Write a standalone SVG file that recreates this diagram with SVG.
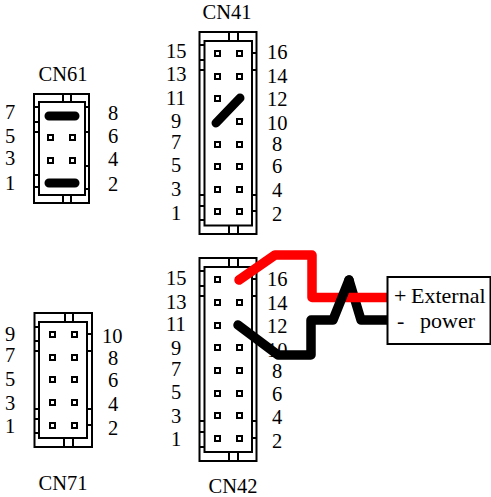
<svg xmlns="http://www.w3.org/2000/svg" width="491" height="497" viewBox="0 0 491 497">
<style>
text{font-family:"Liberation Serif","Times New Roman",serif;font-size:20.500px;fill:#000}
.m{text-anchor:middle}
.e{font-size:22px}
.b{fill:none;stroke:#000;stroke-width:2}
.p{fill:#fff;stroke:#000;stroke-width:2;shape-rendering:crispEdges}
.j{fill:none;stroke:#000;stroke-width:9;stroke-linecap:round;stroke-linejoin:round}
.r{fill:none;stroke:#f00;stroke-width:9.500;stroke-linecap:round;stroke-linejoin:round}
.w{fill:none;stroke:#000;stroke-width:9.500;stroke-linecap:round;stroke-linejoin:round}
</style>
<defs><rect id="pin" x="-2.500" y="-2.500" width="5" height="5" class="p"/></defs>
<g id="CN61">
<text x="63" y="81" class="m">CN61</text>
<path class="b" d="M34 94H89V203H34ZM39 102H85V195H39ZM63 94V102M71 94V102M63 195V203M71 195V203M34 107H39M34 122H39M34 132H39M34 175H39M34 187H39M85 107H89M85 132H89M85 166H89M85 189H89"/>
<use href="#pin" x="50.500" y="137"/><use href="#pin" x="72.500" y="137"/><use href="#pin" x="50.500" y="160"/><use href="#pin" x="72.500" y="160"/>
<path class="j" d="M49 116H75M49 183H75"/>
<text x="5" y="119">7</text><text x="5" y="143">5</text><text x="5" y="165">3</text><text x="5" y="190">1</text>
<text x="108" y="120">8</text><text x="108" y="143">6</text><text x="108" y="166">4</text><text x="108" y="191">2</text>
</g>
<g id="CN41">
<text x="227" y="18.500" class="m">CN41</text>
<path class="b" d="M199.500 32H256.500V234H199.500ZM204.500 41H252V225.500H204.500ZM229 32V41M238 32V41M229 225.500V234M238 225.500V234M199.500 45H204.500M199.500 60H204.500M199.500 70H204.500M199.500 195H204.500M199.500 206H204.500M199.500 220H204.500M252 53H256.500M252 70H256.500M252 195H256.500M252 211H256.500"/>
<use href="#pin" x="217" y="53.500"/><use href="#pin" x="239" y="53.500"/><use href="#pin" x="217" y="76"/><use href="#pin" x="239" y="76"/><use href="#pin" x="217" y="98"/><use href="#pin" x="239" y="121"/><use href="#pin" x="217" y="144"/><use href="#pin" x="239" y="144"/><use href="#pin" x="217" y="166"/><use href="#pin" x="239" y="166"/><use href="#pin" x="217" y="189"/><use href="#pin" x="239" y="189"/><use href="#pin" x="217" y="211.500"/><use href="#pin" x="239" y="211.500"/>
<path class="j" d="M216 123L240 98"/>
<text x="166" y="58">15</text><text x="166" y="81">13</text><text x="166" y="105">11</text><text x="171" y="128">9</text><text x="171" y="149">7</text><text x="171" y="172">5</text><text x="171" y="196">3</text><text x="171" y="220">1</text>
<text x="267" y="59">16</text><text x="267" y="83">14</text><text x="267" y="106">12</text><text x="267" y="130">10</text><text x="272" y="151">8</text><text x="272" y="173">6</text><text x="272" y="197">4</text><text x="272" y="221">2</text>
</g>
<g id="CN42">
<path class="b" d="M199.500 258H256.500V461H199.500ZM204.500 267H252V452H204.500ZM229 258V267M238 258V267M229 452V461M238 452V461M199.500 271H204.500M199.500 286H204.500M199.500 296H204.500M199.500 421H204.500M199.500 432H204.500M199.500 447H204.500M252 279H256.500M252 296H256.500M252 421H256.500M252 438H256.500"/>
<use href="#pin" x="217" y="279"/><use href="#pin" x="239" y="279"/><use href="#pin" x="217" y="302.500"/><use href="#pin" x="239" y="302.500"/><use href="#pin" x="217" y="325"/><use href="#pin" x="217" y="347"/><use href="#pin" x="239" y="347"/><use href="#pin" x="217" y="370"/><use href="#pin" x="239" y="370"/><use href="#pin" x="217" y="393"/><use href="#pin" x="239" y="393"/><use href="#pin" x="217" y="415"/><use href="#pin" x="239" y="415"/><use href="#pin" x="217" y="438"/><use href="#pin" x="239" y="438"/>
<text x="166" y="285">15</text><text x="166" y="309">13</text><text x="166" y="331">11</text><text x="171" y="355">9</text><text x="171" y="376">7</text><text x="171" y="399">5</text><text x="171" y="423">3</text><text x="171" y="446">1</text>
<text x="267" y="286">16</text><text x="267" y="310">14</text><text x="267" y="333">12</text><text x="267" y="357">10</text><text x="272" y="378">8</text><text x="272" y="401">6</text><text x="272" y="424">4</text><text x="272" y="448">2</text>
<text x="233" y="493" class="m">CN42</text>
</g>
<g id="CN71">
<path class="b" d="M34.500 313H92V447H34.500ZM39 322H87V438H39ZM65 313V322M73 313V322M64 438V447M73 438V447M34.500 327H39M34.500 341H39M34.500 351H39M34.500 409H39M34.500 419H39M34.500 433H39M87 334H92M87 351H92M87 409H92M87 425H92"/>
<use href="#pin" x="52" y="334"/><use href="#pin" x="74.500" y="334"/><use href="#pin" x="52" y="357"/><use href="#pin" x="74.500" y="357"/><use href="#pin" x="52" y="379"/><use href="#pin" x="74.500" y="379"/><use href="#pin" x="52" y="402"/><use href="#pin" x="74.500" y="402"/><use href="#pin" x="52" y="425"/><use href="#pin" x="74.500" y="425"/>
<text x="5" y="341">9</text><text x="5" y="362">7</text><text x="5" y="386">5</text><text x="5" y="410">3</text><text x="5" y="433">1</text>
<text x="102" y="343">10</text><text x="108" y="365">8</text><text x="108" y="387">6</text><text x="108" y="411">4</text><text x="108" y="435">2</text>
<text x="63" y="490" class="m">CN71</text>
</g>
<g id="connectors">
<path class="w" d="M349 280L361 320H388"/>
<path class="r" d="M239 280L275 255H312V297.500H388"/>
<path class="w" d="M238 325L278 355H311V320H333L349 280"/>
</g>
<g id="external-power">
<rect x="387.500" y="277" width="103" height="67" fill="#fff" stroke="#000" stroke-width="2"/>
<text x="394" y="303" class="e">+</text><text x="411" y="303" class="e">External</text>
<text x="397" y="328" class="e">-</text><text x="420" y="328" class="e">power</text>
</g>
</svg>
